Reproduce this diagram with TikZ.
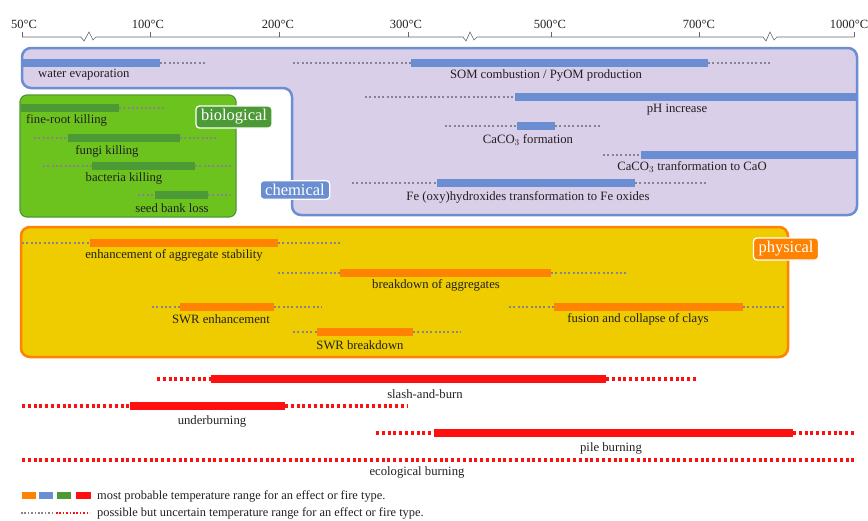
\documentclass[tikz,border=0pt]{standalone}
\usepackage{xcolor}
\usepackage{fontspec}
\setmainfont{Liberation Serif}
\usepackage{tikz}

\definecolor{chemfill}{HTML}{D9CFE8}
\definecolor{chemblue}{HTML}{6B8ED3}
\definecolor{biofill}{HTML}{6CC31E}
\definecolor{biodark}{HTML}{4C9A36}
\definecolor{physfill}{HTML}{EECC00}
\definecolor{physorange}{HTML}{FF8200}
\definecolor{firered}{HTML}{FF1010}
\definecolor{dotgray}{HTML}{85858F}
\definecolor{inkcol}{HTML}{231F20}

\begin{document}
\begin{tikzpicture}[x=1pt,y=-1pt,
    solidbar/.style={line width=7.5pt},
    dotbar/.style={dotgray, line width=2.5pt, dash pattern=on 2pt off 2.3pt},
    reddot/.style={firered, line width=3.5pt, dash pattern=on 3pt off 2.8pt},
    lbl/.style={text=inkcol, inner sep=0pt, font=\fontsize{12.7}{14}\selectfont},
    ticklbl/.style={text=inkcol, inner sep=0pt, font=\fontsize{12.5}{14}\selectfont},
    tag/.style={draw=white, line width=1.3pt, rounded corners=3.5pt, text=white,
      inner xsep=5pt, inner ysep=3.5pt, font=\fontsize{16.5}{18}\selectfont}]
      \useasboundingbox (0,0) rectangle (868,520);

      % Temperature axis
      \draw[gray!80!black, line width=0.6pt] (22,37) -- (81,37) -- (84,41) -- (89,32) -- (93,40) -- (96,37)
        -- (463,37) -- (466,41) -- (470,32) -- (474,40) -- (477,37)
        -- (763,37) -- (766,41) -- (770,32) -- (774,40) -- (777,37) -- (854,37);
      \draw[gray!80!black, line width=0.6pt] (22,37) -- (22,32) (150,37) -- (150,32) (279,37) -- (279,32)
        (408,37) -- (408,32) (551,37) -- (551,32) (699,37) -- (699,32) (854,37) -- (854,32);
      \node[ticklbl] (t50) at (24,24) {50°C};
      \node[ticklbl] (t100) at (148,24) {100°C};
      \node[ticklbl] (t200) at (278,24) {200°C};
      \node[ticklbl] (t300) at (406,24) {300°C};
      \node[ticklbl] (t500) at (550,24) {500°C};
      \node[ticklbl] (t700) at (699,24) {700°C};
      \node[ticklbl] (t1000) at (849,24) {1000°C};

      % Chemical effects
      \draw[chemblue, fill=chemfill, line width=2.5pt, rounded corners=9pt]
        (22,48) -- (857,48) -- (857,215) -- (292,215) -- (292,88) -- (22,88) -- cycle;
      \draw[chemblue, solidbar] (22,63) -- (160,63);
      \draw[dotbar] (160,63) -- (207,63);
      \node[lbl, anchor=west] (water) at (38,75) {water evaporation};
      \draw[dotbar] (293,63) -- (411,63);
      \draw[chemblue, solidbar] (411,63) -- (708,63);
      \draw[dotbar] (708,63) -- (770,63);
      \node[lbl] (som) at (546,75) {SOM combustion / PyOM production};
      \draw[dotbar] (365,97) -- (515,97);
      \draw[chemblue, solidbar] (515,97) -- (857,97);
      \node[lbl] (ph) at (677,110) {pH increase};
      \draw[dotbar] (445,126) -- (517,126);
      \draw[chemblue, solidbar] (517,126) -- (555,126);
      \draw[dotbar] (555,126) -- (601,126);
      \node[lbl] (caform) at (528,140) {CaCO$_3$ formation};
      \draw[dotbar] (603,155) -- (641,155);
      \draw[chemblue, solidbar] (641,155) -- (857,155);
      \node[lbl] (cao) at (692,167) {CaCO$_3$ tranformation to CaO};
      \draw[dotbar] (352,183) -- (437,183);
      \draw[chemblue, solidbar] (437,183) -- (635,183);
      \draw[dotbar] (635,183) -- (706,183);
      \node[lbl] (fe) at (528,197) {Fe (oxy)hydroxides transformation to Fe oxides};
      \node[tag, fill=chemblue] (chemical) at (295,190) {chemical};

      % Biological effects
      \draw[biodark, fill=biofill, line width=1.2pt, rounded corners=7pt] (20,95) rectangle (236,217);
      \draw[biodark, solidbar] (21,108) -- (119,108);
      \draw[dotbar] (119,108) -- (165,108);
      \node[lbl, anchor=west] (fineroot) at (26,120) {fine-root killing};
      \draw[dotbar] (34,138) -- (68,138);
      \draw[biodark, solidbar] (68,138) -- (180,138);
      \draw[dotbar] (180,138) -- (218,138);
      \node[lbl] (fungi) at (107,151) {fungi killing};
      \draw[dotbar] (43,166) -- (92,166);
      \draw[biodark, solidbar] (92,166) -- (195,166);
      \draw[dotbar] (195,166) -- (232,166);
      \node[lbl] (bacteria) at (124,178) {bacteria killing};
      \draw[dotbar] (138,195) -- (155,195);
      \draw[biodark, solidbar] (155,195) -- (208,195);
      \draw[dotbar] (208,195) -- (231,195);
      \node[lbl] (seedbank) at (172,208) {seed bank loss};
      \node[tag, fill=biodark] (biological) at (234,117) {biological};

      % Physical effects
      \draw[physorange, fill=physfill, line width=2.5pt, rounded corners=9pt] (21,227) rectangle (788,357);
      \draw[dotbar] (22,243) -- (90,243);
      \draw[physorange, solidbar] (90,243) -- (278,243);
      \draw[dotbar] (278,243) -- (340,243);
      \node[lbl] (aggstab) at (174,255) {enhancement of aggregate stability};
      \draw[dotbar] (278,273) -- (340,273);
      \draw[physorange, solidbar] (340,273) -- (551,273);
      \draw[dotbar] (551,273) -- (627,273);
      \node[lbl] (aggbreak) at (436,285) {breakdown of aggregates};
      \draw[dotbar] (152,307) -- (180,307);
      \draw[physorange, solidbar] (180,307) -- (274,307);
      \draw[dotbar] (274,307) -- (322,307);
      \node[lbl] (swrenh) at (221,319) {SWR enhancement};
      \draw[dotbar] (293,332) -- (317,332);
      \draw[physorange, solidbar] (317,332) -- (413,332);
      \draw[dotbar] (413,332) -- (461,332);
      \node[lbl] (swrbreak) at (360,345) {SWR breakdown};
      \draw[dotbar] (509,307) -- (554,307);
      \draw[physorange, solidbar] (554,307) -- (743,307);
      \draw[dotbar] (743,307) -- (786,307);
      \node[lbl] (clays) at (638,319) {fusion and collapse of clays};
      \node[tag, fill=physorange] (physical) at (786,249) {physical};

      % Fire types
      \draw[reddot] (157,379) -- (211,379);
      \draw[firered, line width=8pt] (211,379) -- (606,379);
      \draw[reddot] (606,379) -- (697,379);
      \node[lbl] (slash) at (425,394) {slash-and-burn};
      \draw[reddot] (22,406) -- (130,406);
      \draw[firered, line width=8pt] (130,406) -- (285,406);
      \draw[reddot] (285,406) -- (407,406);
      \node[lbl] (under) at (212,421) {underburning};
      \draw[reddot] (376,433) -- (434,433);
      \draw[firered, line width=8pt] (434,433) -- (793,433);
      \draw[reddot] (793,433) -- (856,433);
      \node[lbl] (pile) at (611,448) {pile burning};
      \draw[reddot] (22,460) -- (856,460);
      \node[lbl] (ecological) at (417,472) {ecological burning};

      % Legend
      \fill[physorange] (22,492) rectangle (36,499);
      \fill[chemblue] (39,492) rectangle (53,499);
      \fill[biodark] (57,492) rectangle (71,499);
      \fill[firered] (76,492) rectangle (91,499);
      \node[lbl, anchor=west, font=\fontsize{12.4}{14}\selectfont] (legsolid) at (97,496)
        {most probable temperature range for an effect or fire type.};
      \draw[dotgray, line width=2pt, dash pattern=on 1.6pt off 1.8pt] (21,513) -- (54,513);
      \draw[firered, line width=2pt, dash pattern=on 1.6pt off 1.8pt] (56,513) -- (90,513);
      \node[lbl, anchor=west, font=\fontsize{12.4}{14}\selectfont] (legdot) at (97,513)
        {possible but uncertain temperature range for an effect or fire type.};
    \end{tikzpicture}
\end{document}
